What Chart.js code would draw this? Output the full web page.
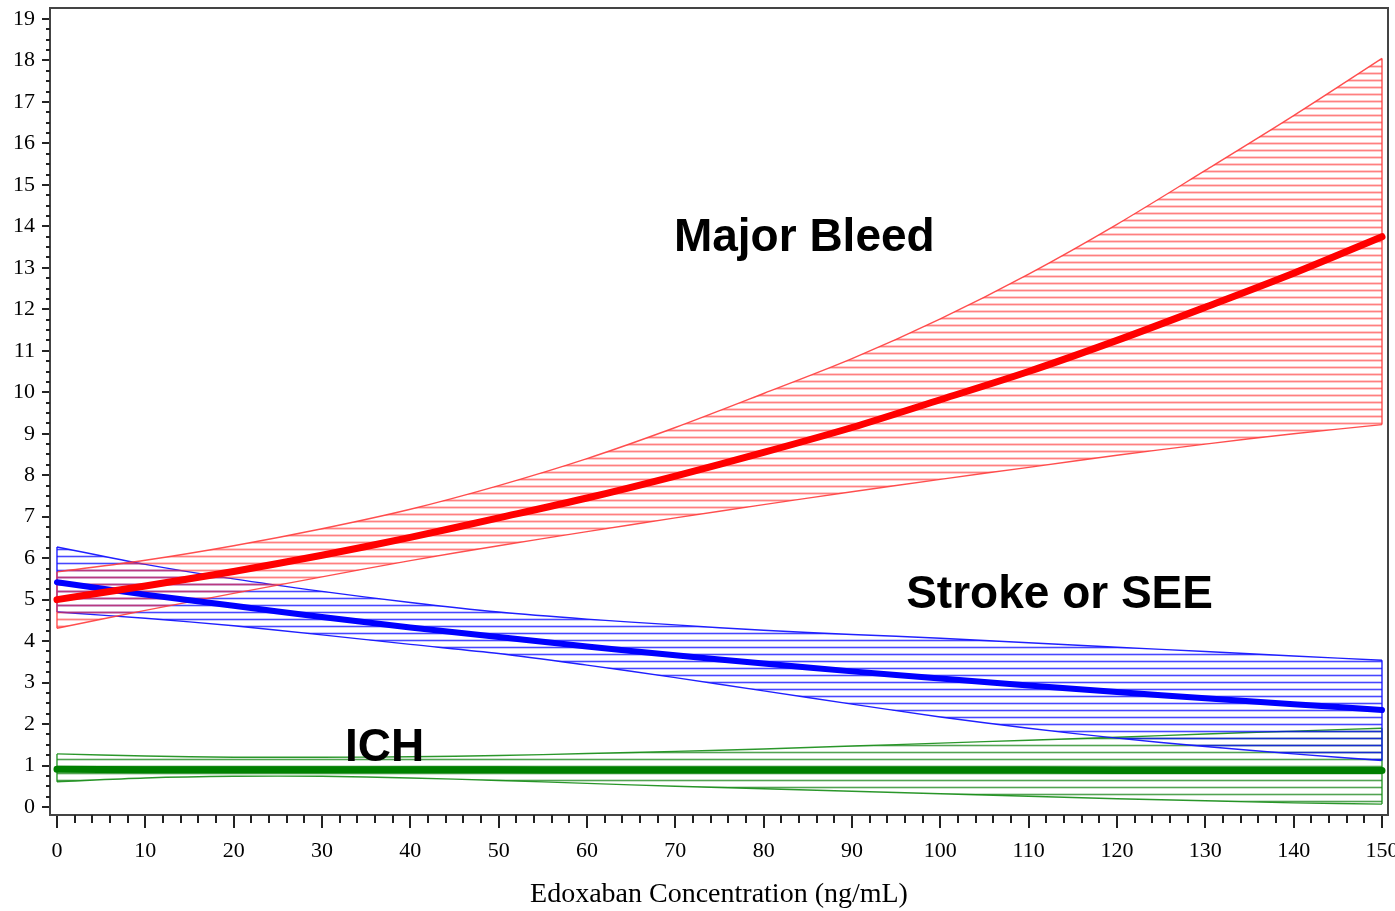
<!DOCTYPE html>
<html>
<head>
<meta charset="utf-8">
<script src="https://cdn.jsdelivr.net/npm/chart.js@4.4.0/dist/chart.umd.min.js"></script>
<style>
html, body { margin: 0; padding: 0; background: #fff; }
#wrap { width: 1395px; height: 911px; }
</style>
</head>
<body>
<div id="wrap"><canvas id="c" width="1395" height="911"></canvas></div>
<script>
// edoxaban concentration (ng/mL)
const concentration = [0, 10, 20, 30, 40, 50, 60, 70, 80, 90, 100, 110, 120, 130, 140, 150];

// major bleed rate with band
const bleedCenter = [5.0, 5.33, 5.68, 6.07, 6.5, 6.97, 7.45, 7.98, 8.55, 9.15, 9.82, 10.5, 11.25, 12.05, 12.87, 13.75];
const bleedUpper  = [5.67, 5.95, 6.3, 6.71, 7.18, 7.75, 8.4, 9.15, 9.97, 10.81, 11.77, 12.85, 14.05, 15.35, 16.67, 18.05];
const bleedLower  = [4.31, 4.74, 5.15, 5.55, 5.94, 6.3, 6.64, 6.97, 7.29, 7.6, 7.9, 8.19, 8.48, 8.75, 9.0, 9.22];

// stroke or SEE
const strokeCenter = [5.42, 5.12, 4.85, 4.58, 4.33, 4.1, 3.87, 3.66, 3.46, 3.27, 3.1, 2.93, 2.77, 2.62, 2.48, 2.34];
const strokeUpper  = [6.27, 5.85, 5.5, 5.2, 4.93, 4.7, 4.53, 4.39, 4.26, 4.16, 4.07, 3.96, 3.85, 3.75, 3.64, 3.54];
const strokeLower  = [4.7, 4.55, 4.37, 4.15, 3.92, 3.7, 3.42, 3.12, 2.8, 2.48, 2.17, 1.9, 1.66, 1.46, 1.28, 1.12];

// ICH
const ichCenter = [0.91, 0.9, 0.9, 0.9, 0.9, 0.9, 0.89, 0.89, 0.89, 0.89, 0.89, 0.89, 0.88, 0.88, 0.88, 0.88];
const ichUpper  = [1.28, 1.23, 1.2, 1.2, 1.21, 1.24, 1.29, 1.34, 1.4, 1.47, 1.54, 1.61, 1.68, 1.76, 1.83, 1.9];
const ichLower  = [0.61, 0.7, 0.74, 0.74, 0.7, 0.64, 0.57, 0.5, 0.44, 0.38, 0.32, 0.26, 0.2, 0.15, 0.1, 0.07];

const xTicks = [0, 10, 20, 30, 40, 50, 60, 70, 80, 90, 100, 110, 120, 130, 140, 150];
const yTicks = [0, 1, 2, 3, 4, 5, 6, 7, 8, 9, 10, 11, 12, 13, 14, 15, 16, 17, 18, 19];

const xTitle = 'Edoxaban Concentration (ng/mL)';
const labels = [
  { text: 'Major Bleed', x: 84.6, y: 13.4 },
  { text: 'Stroke or SEE', x: 113.5, y: 4.8 },
  { text: 'ICH', x: 37.1, y: 1.1 }
];

function pts(ys) {
  return ys.map((y, i) => ({ x: concentration[i], y: y }));
}

function hatch(color, w) {
  const t = document.createElement('canvas');
  t.width = 8;
  t.height = 7;
  const g = t.getContext('2d');
  g.strokeStyle = color;
  g.lineWidth = w;
  g.beginPath();
  g.moveTo(0, 3.5);
  g.lineTo(8, 3.5);
  g.stroke();
  return g.createPattern(t, 'repeat');
}

const ctx = document.getElementById('c').getContext('2d');

function band(lower, upper, edge, fillColor, w) {
  const last = concentration.length - 1;
  return [
    { data: pts(lower), borderColor: edge, borderWidth: 1.4, pointRadius: 0, tension: 0.3, fill: false, order: 5 },
    { data: pts(upper), borderColor: edge, borderWidth: 1.4, pointRadius: 0, tension: 0.3,
      fill: '-1', backgroundColor: hatch(fillColor, w), order: 5 },
    { data: [{ x: concentration[0], y: lower[0] }, { x: concentration[0], y: upper[0] }],
      borderColor: edge, borderWidth: 1.4, pointRadius: 0, fill: false, order: 4 },
    { data: [{ x: concentration[last], y: lower[last] }, { x: concentration[last], y: upper[last] }],
      borderColor: edge, borderWidth: 1.4, pointRadius: 0, fill: false, order: 4 }
  ];
}

function centerLine(ys, color, w) {
  return { data: pts(ys), borderColor: color, borderWidth: w, pointRadius: 0, tension: 0.3,
    fill: false, order: 0, borderCapStyle: 'round' };
}

const datasets = [].concat(
  band(bleedLower, bleedUpper, 'rgba(255,60,60,0.9)', 'rgba(255,50,50,0.62)', 1.8),
  band(strokeLower, strokeUpper, 'rgba(20,20,255,0.95)', 'rgba(0,0,255,0.72)', 1.6),
  band(ichLower, ichUpper, 'rgba(20,140,20,0.9)', 'rgba(0,120,0,0.68)', 1.6),
  [
    centerLine(bleedCenter, '#ff0000', 7),
    centerLine(strokeCenter, '#0000ff', 6),
    centerLine(ichCenter, '#008000', 7)
  ]
);

const frameAndMinor = {
  id: 'frameAndMinor',
  afterDraw(chart) {
    const a = chart.chartArea;
    const xs = chart.scales.x, ys = chart.scales.y;
    const c = chart.ctx;
    c.save();
    c.strokeStyle = '#444';
    c.lineWidth = 2;
    c.strokeRect(a.left, a.top, a.right - a.left, a.bottom - a.top);
    c.strokeStyle = '#222';
    c.lineWidth = 2;
    c.beginPath();
    for (let v = 0; v <= 150; v += 2) {
      if (v % 10 === 0) continue;
      const px = Math.round(xs.getPixelForValue(v));
      c.moveTo(px, a.bottom);
      c.lineTo(px, a.bottom + 8);
    }
    for (let k = 0; k <= 76; k++) {
      if (k % 4 === 0) continue;
      const py = Math.round(ys.getPixelForValue(k / 4));
      c.moveTo(a.left - 4, py);
      c.lineTo(a.left, py);
    }
    c.stroke();
    c.fillStyle = '#000';
    c.font = 'bold 46px "Liberation Sans", Arial, sans-serif';
    c.textAlign = 'center';
    c.textBaseline = 'alphabetic';
    labels.forEach(l => {
      c.fillText(l.text, xs.getPixelForValue(l.x), ys.getPixelForValue(l.y));
    });
    c.restore();
  }
};

const serif = '"Liberation Serif", "Times New Roman", serif';

new Chart(ctx, {
  type: 'line',
  data: { datasets: datasets },
  plugins: [frameAndMinor],
  options: {
    responsive: false,
    animation: false,
    events: [],
    layout: { padding: { top: 8, right: 7, left: 0, bottom: 0 } },
    plugins: { legend: { display: false }, tooltip: { enabled: false }, filler: { propagate: false } },
    scales: {
      x: {
        type: 'linear',
        min: -0.79,
        max: 150.68,
        afterBuildTicks(s) { s.ticks = xTicks.map(v => ({ value: v })); },
        afterFit(s) { s.height = 96; s.paddingLeft = 0; s.paddingRight = 0; },
        ticks: { autoSkip: false, maxRotation: 0, color: '#000', padding: 10,
          font: { family: serif, size: 22 } },
        grid: { drawOnChartArea: false, drawTicks: true, tickLength: 13, color: '#222', lineWidth: 2 },
        border: { display: true, color: '#333', width: 2 },
        title: { display: true, text: xTitle, color: '#000', padding: { top: 15, bottom: 0 },
          font: { family: serif, size: 28 } }
      },
      y: {
        type: 'linear',
        min: -0.193,
        max: 19.265,
        afterBuildTicks(s) { s.ticks = yTicks.map(v => ({ value: v })); },
        afterFit(s) { s.width = 50; s.paddingTop = 0; s.paddingBottom = 0; },
        ticks: { autoSkip: false, color: '#000', padding: 7,
          font: { family: serif, size: 22 } },
        grid: { drawOnChartArea: false, drawTicks: true, tickLength: 8, color: '#222', lineWidth: 2 },
        border: { display: true, color: '#333', width: 2 }
      }
    }
  }
});
</script>
</body>
</html>
